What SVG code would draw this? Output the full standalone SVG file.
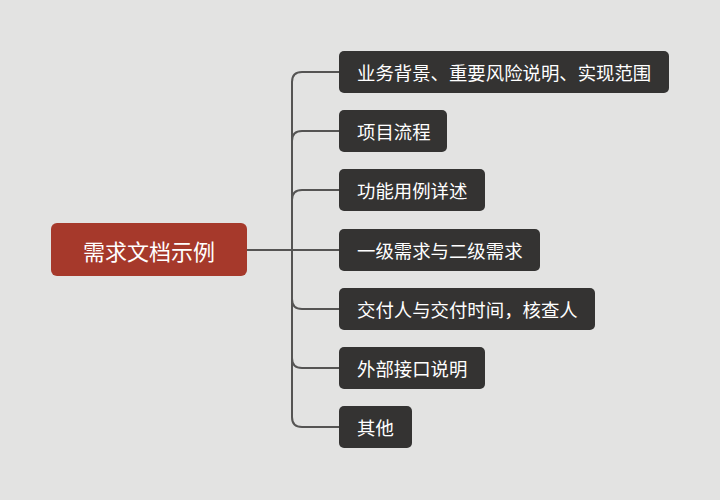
<svg xmlns="http://www.w3.org/2000/svg" width="720" height="500" viewBox="0 0 720 500">
<style>
.bg{fill:#E3E3E2}
.root rect{fill:#A6392B}
.child rect{fill:#343332}
text{font-family:"Noto Sans CJK SC","Noto Sans",sans-serif;fill:#FFFFFF;dominant-baseline:central}
.root text{font-size:22px}
.child text{font-size:18.4px}
.conn path{fill:none;stroke:#555453;stroke-width:2}
</style>
<rect class="bg" x="0" y="0" width="720" height="500"/>
<g class="conn">
<path d="M247,250 H339"/>
<path d="M292,250 V82 Q292,72 302,72 H339"/>
<path d="M292,141 Q292,131 302,131 H339"/>
<path d="M292,200 Q292,190 302,190 H339"/>
<path d="M292,250 V417 Q292,427 302,427 H339"/>
<path d="M292,299 Q292,309 302,309 H339"/>
<path d="M292,358 Q292,368 302,368 H339"/>
</g>
<g id="root" class="root">
<rect x="51" y="223" width="196" height="53" rx="6"/>
<text x="149" y="249.5" text-anchor="middle">需求文档示例</text>
</g>
<g id="n1" class="child">
<rect x="339" y="51" width="330" height="42" rx="5"/>
<text x="357" y="72">业务背景、重要风险说明、实现范围</text>
</g>
<g id="n2" class="child">
<rect x="339" y="110" width="108" height="42" rx="5"/>
<text x="357" y="131">项目流程</text>
</g>
<g id="n3" class="child">
<rect x="339" y="169" width="146" height="42" rx="5"/>
<text x="357" y="190">功能用例详述</text>
</g>
<g id="n4" class="child">
<rect x="339" y="229" width="201" height="42" rx="5"/>
<text x="357" y="250">一级需求与二级需求</text>
</g>
<g id="n5" class="child">
<rect x="339" y="288" width="256" height="42" rx="5"/>
<text x="357" y="309">交付人与交付时间，核查人</text>
</g>
<g id="n6" class="child">
<rect x="339" y="347" width="146" height="42" rx="5"/>
<text x="357" y="368">外部接口说明</text>
</g>
<g id="n7" class="child">
<rect x="339" y="406" width="73" height="42" rx="5"/>
<text x="357" y="427">其他</text>
</g>
</svg>
